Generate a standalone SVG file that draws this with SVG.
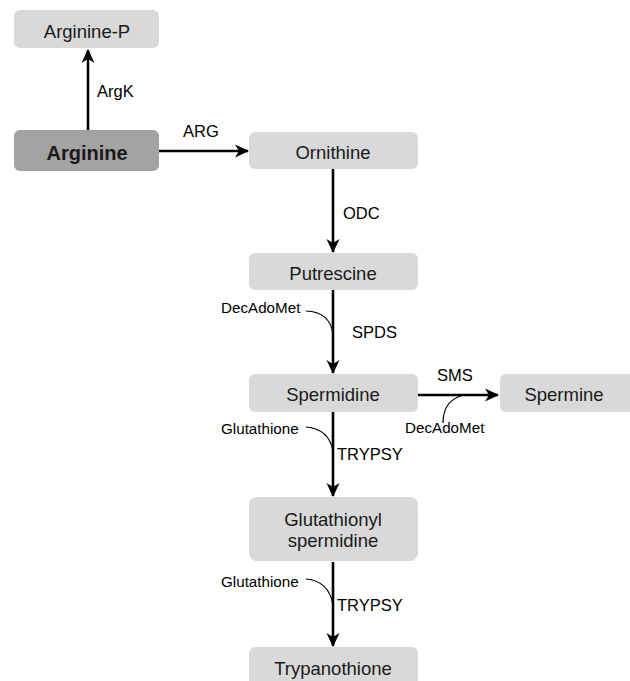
<svg xmlns="http://www.w3.org/2000/svg" width="630" height="681" viewBox="0 0 630 681">
<defs>
<style>
.box{fill:#d9d9d9;}
.dark{fill:#a3a3a3;}
.t{font-family:"Liberation Sans",Arial,sans-serif;font-size:18.5px;fill:#1a1a1a;text-anchor:middle;}
.b{font-weight:bold;font-size:20px;}
.lab{font-family:"Liberation Sans",Arial,sans-serif;font-size:16.5px;fill:#000;}
.sm{font-family:"Liberation Sans",Arial,sans-serif;font-size:15.2px;fill:#000;}
.ln{stroke:#000;stroke-width:2.6;fill:none;}
.cv{stroke:#000;stroke-width:1.2;fill:none;}
</style>
<marker id="ah" markerUnits="userSpaceOnUse" viewBox="0 0 14 14" refX="13" refY="7" markerWidth="14" markerHeight="14" orient="auto">
<path d="M0,0.5 L14,7 L0,13.5 L4,7 z" fill="#000"/>
</marker>
</defs>
<g id="arginine-p"><rect class="box" x="14" y="10" width="145" height="38" rx="6"/><text class="t" x="87" y="38">Arginine-P</text></g>
<g id="arginine"><rect class="dark" x="14" y="130" width="145" height="41" rx="6"/><text class="t b" x="87" y="160">Arginine</text></g>
<g id="ornithine"><rect class="box" x="249" y="132" width="169" height="37" rx="6"/><text class="t" x="333" y="159">Ornithine</text></g>
<g id="putrescine"><rect class="box" x="249" y="253" width="169" height="37" rx="6"/><text class="t" x="333" y="280">Putrescine</text></g>
<g id="spermidine"><rect class="box" x="249" y="374" width="169" height="38" rx="6"/><text class="t" x="333" y="401">Spermidine</text></g>
<g id="spermine"><rect class="box" x="500" y="374" width="140" height="38" rx="6"/><text class="t" x="564" y="401">Spermine</text></g>
<g id="glutathionyl-spermidine"><rect class="box" x="249" y="497" width="169" height="64" rx="8"/><text class="t" x="333" y="526">Glutathionyl</text><text class="t" x="333" y="547">spermidine</text></g>
<g id="trypanothione"><rect class="box" x="249" y="647" width="169" height="50" rx="6"/><text class="t" x="333" y="675">Trypanothione</text></g>
<g id="connectors">
<line class="ln" x1="88" y1="130" x2="88" y2="50" marker-end="url(#ah)"/>
<line class="ln" x1="159" y1="151" x2="248" y2="151" marker-end="url(#ah)"/>
<line class="ln" x1="333" y1="169" x2="333" y2="252" marker-end="url(#ah)"/>
<line class="ln" x1="333" y1="290" x2="333" y2="373" marker-end="url(#ah)"/>
<line class="ln" x1="418" y1="395" x2="498" y2="395" marker-end="url(#ah)"/>
<line class="ln" x1="333" y1="412" x2="333" y2="496" marker-end="url(#ah)"/>
<line class="ln" x1="333" y1="562" x2="333" y2="646" marker-end="url(#ah)"/>
<path class="cv" d="M306,311 Q330,312 333,334"/>
<path class="cv" d="M306,427 Q329,429 333,451"/>
<path class="cv" d="M443,423 Q443,400 464,395"/>
<path class="cv" d="M306,579 Q329,581 333,605"/>
<text class="lab" x="97" y="97">ArgK</text>
<text class="lab" x="183" y="137">ARG</text>
<text class="lab" x="343" y="219">ODC</text>
<text class="lab" x="352" y="338">SPDS</text>
<text class="lab" x="437" y="381">SMS</text>
<text class="lab" x="337" y="460">TRYPSY</text>
<text class="lab" x="337" y="611">TRYPSY</text>
<text class="sm" x="221" y="313">DecAdoMet</text>
<text class="sm" x="405" y="433">DecAdoMet</text>
<text class="sm" x="221" y="434">Glutathione</text>
<text class="sm" x="221" y="587">Glutathione</text>
</g>
</svg>
